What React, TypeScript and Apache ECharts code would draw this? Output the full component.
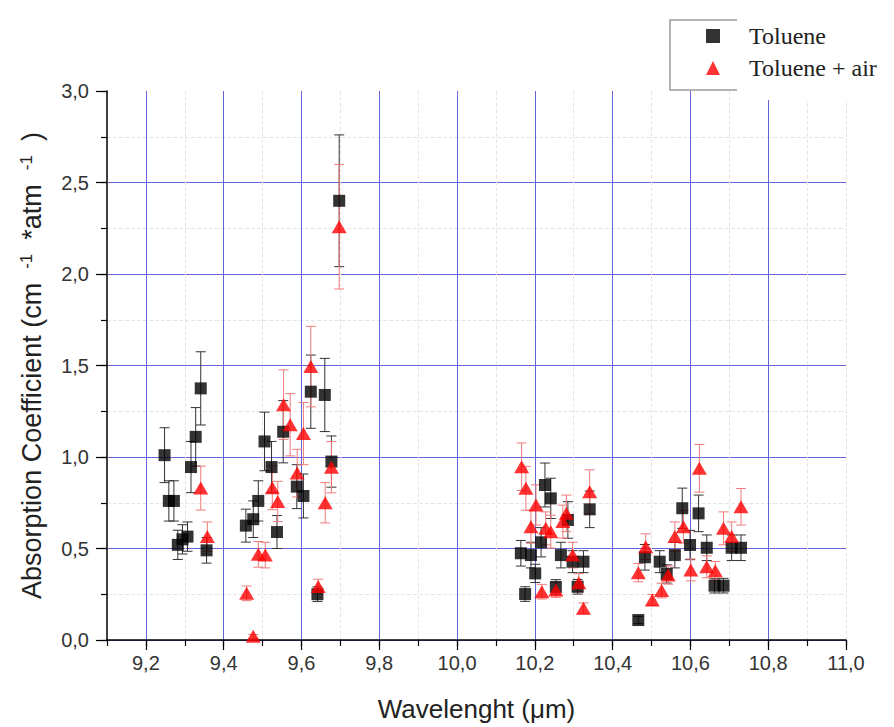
import React, { useEffect, useRef } from "react";
import * as echarts from "echarts";

// [wavelength (µm), absorption coefficient, error]
const toluene: number[][] = [
  [9.248, 1.01, 0.15], [9.259, 0.76, 0.11], [9.272, 0.76, 0.11], [9.282, 0.52, 0.08],
  [9.294, 0.55, 0.08], [9.307, 0.565, 0.08], [9.316, 0.945, 0.14], [9.328, 1.11, 0.16],
  [9.341, 1.375, 0.2], [9.356, 0.49, 0.07],
  [9.457, 0.625, 0.09], [9.476, 0.66, 0.1], [9.489, 0.76, 0.11], [9.505, 1.085, 0.16],
  [9.523, 0.945, 0.14], [9.537, 0.59, 0.09], [9.553, 1.138, 0.17], [9.588, 0.838, 0.12],
  [9.605, 0.787, 0.12], [9.624, 1.357, 0.2], [9.641, 0.25, 0.04], [9.66, 1.339, 0.2],
  [9.677, 0.975, 0.14], [9.697, 2.4, 0.36],
  [10.164, 0.474, 0.07], [10.175, 0.251, 0.04], [10.19, 0.464, 0.07], [10.201, 0.364, 0.05],
  [10.216, 0.534, 0.08], [10.226, 0.847, 0.12], [10.241, 0.774, 0.11], [10.254, 0.29, 0.04],
  [10.267, 0.464, 0.07], [10.285, 0.656, 0.1], [10.297, 0.428, 0.06], [10.31, 0.291, 0.04],
  [10.325, 0.428, 0.06], [10.341, 0.714, 0.1],
  [10.466, 0.109, 0.02], [10.483, 0.452, 0.07], [10.521, 0.428, 0.06], [10.539, 0.361, 0.05],
  [10.56, 0.464, 0.07], [10.579, 0.72, 0.11], [10.599, 0.519, 0.08], [10.621, 0.692, 0.1],
  [10.642, 0.504, 0.07], [10.662, 0.297, 0.04], [10.685, 0.297, 0.04], [10.706, 0.504, 0.07],
  [10.73, 0.504, 0.07],
];

const tolueneAir: number[][] = [
  [9.341, 0.83, 0.12], [9.358, 0.565, 0.08],
  [9.459, 0.255, 0.04], [9.476, 0.02, 0.01], [9.489, 0.468, 0.07], [9.507, 0.464, 0.07],
  [9.525, 0.832, 0.12], [9.539, 0.757, 0.11], [9.554, 1.286, 0.19], [9.571, 1.176, 0.17],
  [9.589, 0.912, 0.13], [9.605, 1.128, 0.17], [9.624, 1.494, 0.22], [9.643, 0.292, 0.04],
  [9.661, 0.75, 0.11], [9.677, 0.944, 0.14], [9.697, 2.258, 0.34],
  [10.166, 0.947, 0.13], [10.177, 0.829, 0.12], [10.19, 0.619, 0.09], [10.203, 0.738, 0.11],
  [10.218, 0.264, 0.04], [10.228, 0.61, 0.09], [10.241, 0.592, 0.09], [10.254, 0.273, 0.04],
  [10.272, 0.647, 0.09], [10.281, 0.692, 0.1], [10.297, 0.464, 0.07], [10.313, 0.313, 0.05],
  [10.325, 0.173, 0.03], [10.341, 0.81, 0.12],
  [10.466, 0.368, 0.05], [10.485, 0.51, 0.07], [10.502, 0.219, 0.03], [10.526, 0.27, 0.04],
  [10.543, 0.355, 0.05], [10.56, 0.565, 0.08], [10.582, 0.619, 0.09], [10.601, 0.383, 0.06],
  [10.623, 0.938, 0.13], [10.642, 0.4, 0.06], [10.664, 0.379, 0.05], [10.685, 0.61, 0.09],
  [10.706, 0.565, 0.08], [10.73, 0.728, 0.1],
];

const xMajorTicks = [9.2, 9.4, 9.6, 9.8, 10.0, 10.2, 10.4, 10.6, 10.8, 11.0];
const xMin = 9.1;
const xMax = 11.0;
const yMin = 0;
const yMax = 3.0;

const seriesNames = ["Toluene", "Toluene + air"];

const comma = (v: number) => v.toFixed(1).replace(".", ",");

function errorSeries(data: number[][], color: string, name: string) {
  return {
    type: "custom",
    name,
    xAxisIndex: 0,
    yAxisIndex: 0,
    z: 1,
    silent: true,
    data,
    renderItem: (params: any, api: any) => {
      const x = api.value(0);
      const y = api.value(1);
      const e = api.value(2);
      const top = api.coord([x, y + e]);
      const bot = api.coord([x, y - e]);
      const hw = 5;
      const st = { stroke: color, lineWidth: 1 };
      return {
        type: "group",
        children: [
          { type: "line", shape: { x1: top[0], y1: top[1], x2: bot[0], y2: bot[1] }, style: st },
          { type: "line", shape: { x1: top[0] - hw, y1: top[1], x2: top[0] + hw, y2: top[1] }, style: st },
          { type: "line", shape: { x1: bot[0] - hw, y1: bot[1], x2: bot[0] + hw, y2: bot[1] }, style: st },
        ],
      };
    },
  };
}

export default function App() {
  const ref = useRef<HTMLDivElement>(null);
  useEffect(() => {
    if (!ref.current) return;
    const chart = echarts.init(ref.current, undefined, { renderer: "svg" });
    const labelFont = { fontFamily: "Liberation Sans, Arial, sans-serif", fontSize: 20, color: "#333" };
    const blue = "#6464d8";
    const minorGrid = "#e6e6e6";
    chart.setOption({
      animation: false,
      backgroundColor: "#ffffff",
      grid: { left: 107, right: 48, top: 91, bottom: 87, containLabel: false },
      legend: {
        data: seriesNames,
        orient: "vertical",
        left: 706,
        top: 24,
        padding: 0,
        itemWidth: 14,
        itemHeight: 14,
        itemGap: 8,
        textStyle: {
          fontFamily: "Liberation Serif, Times New Roman, serif",
          fontSize: 24,
          color: "#222",
          padding: [0, 0, 0, 24],
        },
      },
      graphic: [
        {
          type: "rect",
          z: 3,
          shape: { x: 737, y: 0, width: 157, height: 100 },
          style: { fill: "#ffffff" },
          silent: true,
        },
        {
          type: "polyline",
          z: 3,
          shape: { points: [[737, 20], [670, 20], [670, 90], [737, 90]] },
          style: { stroke: "#9a9a9a", lineWidth: 1.5, fill: "none" },
          silent: true,
        },
      ],
      xAxis: [
        {
          type: "value",
          position: "bottom",
          min: xMin,
          max: xMax,
          interval: 0.1,
          axisLine: { show: true, onZero: false, lineStyle: { color: "#000", width: 1.5 } },
          axisTick: { show: true, inside: false, length: 6, lineStyle: { color: "#000", width: 1.2 } },
          axisLabel: { show: false },
          splitLine: { show: true, lineStyle: { color: minorGrid, type: "dashed", width: 1 } },
          name: "Wavelenght (\u03bcm)",
          nameLocation: "middle",
          nameGap: 56,
          nameTextStyle: { fontFamily: "Liberation Sans, Arial, sans-serif", fontSize: 26, color: "#222" },
        },
        {
          type: "value",
          position: "bottom",
          min: xMin,
          max: xMax,
          interval: 0.1,
          axisLine: { show: false, onZero: false },
          axisTick: {
            show: true,
            inside: false,
            length: 10,
            customValues: xMajorTicks,
            lineStyle: { color: "#000", width: 1.2 },
          },
          axisLabel: {
            show: true,
            customValues: xMajorTicks,
            margin: 13,
            formatter: comma,
            ...labelFont,
          },
          splitLine: { show: true, showMaxLine: false, lineStyle: { color: blue, width: 1 } },
        },
      ],
      yAxis: [
        {
          type: "value",
          position: "left",
          min: yMin,
          max: yMax,
          interval: 0.25,
          axisLine: { show: true, onZero: false, lineStyle: { color: "#000", width: 1.5 } },
          axisTick: { show: true, inside: false, length: 6, lineStyle: { color: "#000", width: 1.2 } },
          axisLabel: { show: false },
          splitLine: { show: true, showMaxLine: false, lineStyle: { color: minorGrid, type: "dashed", width: 1 } },
          name: "Absorption Coefficient (cm{sup|-1}*atm{sup|-1})",
          nameLocation: "middle",
          nameGap: 62,
          nameTextStyle: {
            fontFamily: "Liberation Sans, Arial, sans-serif",
            fontSize: 27,
            color: "#222",
            padding: [0, 0, 0, 0],
            rich: {
              sup: {
                fontFamily: "Liberation Sans, Arial, sans-serif",
                fontSize: 17,
                color: "#222",
                verticalAlign: "top",
                padding: [0, 14, 0, 14],
              },
            },
          },
        },
        {
          type: "value",
          position: "left",
          min: yMin,
          max: yMax,
          interval: 0.5,
          axisLine: { show: false, onZero: false },
          axisTick: { show: true, inside: false, length: 11, lineStyle: { color: "#000", width: 1.2 } },
          axisLabel: { show: true, margin: 18, formatter: comma, ...labelFont },
          splitLine: { show: true, showMaxLine: false, lineStyle: { color: blue, width: 1 } },
        },
      ],
      series: [
        errorSeries(toluene, "#333333", "err-toluene"),
        errorSeries(tolueneAir, "#f07a7a", "err-toluene-air"),
        {
          type: "scatter",
          name: seriesNames[0],
          xAxisIndex: 0,
          yAxisIndex: 0,
          z: 3,
          symbol: "rect",
          symbolSize: 12,
          itemStyle: { color: "#000000" },
          data: toluene.map((d) => [d[0], d[1]]),
        },
        {
          type: "scatter",
          name: seriesNames[1],
          xAxisIndex: 0,
          yAxisIndex: 0,
          z: 4,
          symbol: "triangle",
          symbolSize: [15, 13],
          itemStyle: { color: "#ff0000" },
          data: tolueneAir.map((d) => [d[0], d[1]]),
        },
      ],
    });
    return () => chart.dispose();
  }, []);
  return (
    <div
      ref={ref}
      style={{ position: "fixed", left: 0, top: 0, width: 894, height: 727, background: "#fff" }}
    />
  );
}
